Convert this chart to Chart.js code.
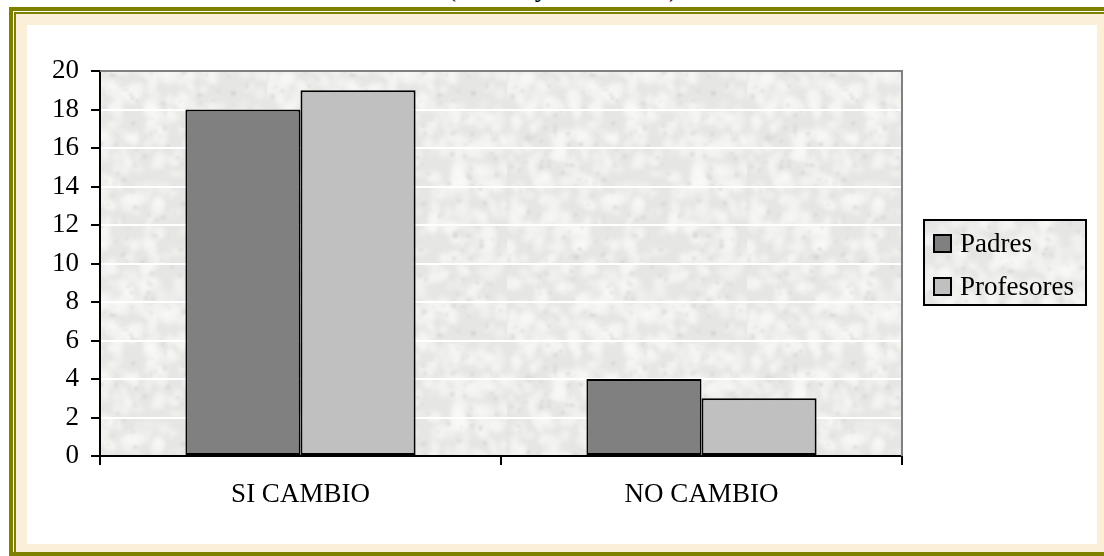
<!DOCTYPE html>
<html>
<head>
<meta charset="utf-8">
<script src="https://cdn.jsdelivr.net/npm/chart.js@4/dist/chart.umd.min.js"></script>
<style>
  html, body { margin: 0; padding: 0; background: #ffffff; }
  body { width: 1104px; height: 556px; position: relative; overflow: hidden; font-family: "Liberation Serif", "Times New Roman", serif; }
  .caption { position: absolute; left: 447px; top: -26px; font-size: 27px; line-height: 27px; color: #000; white-space: nowrap; }
  .frame-outer { position: absolute; left: 9px; top: 7px; width: 1200px; height: 600px; border-top: 4px solid #808000; border-left: 4px solid #808000; background: #ffffff; }
  .frame-inner { position: absolute; left: 14px; top: 12px; width: 1200px; height: 539px; border-top: 2px solid #808000; border-left: 2px solid #808000; border-bottom: 2px solid #ffffff; background: #fcefd8; }
  .frame-bottom { position: absolute; left: 9px; top: 552px; width: 1200px; height: 4px; background: #808000; }
  .panel { position: absolute; left: 27px; top: 25px; width: 1070px; height: 519px; background: #ffffff; }
  .legend { position: absolute; left: 923px; top: 219px; width: 160px; height: 83px; border: 2px solid #000; font-size: 27px; color: #000; }
  .legend .item { position: absolute; left: 8px; height: 20px; display: flex; align-items: center; white-space: nowrap; }
  .legend .swatch { width: 15px; height: 15px; border: 2px solid #000; margin-right: 8px; }
</style>
</head>
<body>
<div class="caption">(Padres y Profesores).</div>
<div class="frame-outer"></div>
<div class="frame-inner"></div>
<div class="frame-bottom"></div>
<div class="panel">
  <canvas id="chart" width="1070" height="519"></canvas>
</div>
<div class="legend" id="legend"></div>
<script>
// Categories and series
const categories = ['SI CAMBIO', 'NO CAMBIO'];
const seriesNames = ['Padres', 'Profesores'];
const padres = [18, 4];
const profesores = [19, 3];
const seriesColors = ['#808080', '#c0c0c0'];
const yTicks = [0, 2, 4, 6, 8, 10, 12, 14, 16, 18, 20];

// Soft marble-like texture used for the plot and legend backgrounds
function makeTexture() {
  const c = document.createElement('canvas');
  c.width = 240; c.height = 240;
  const g = c.getContext('2d');
  g.fillStyle = '#e6e6e4';
  g.fillRect(0, 0, 240, 240);
  let s = 24681;
  const rnd = () => { s = (s * 1103515245 + 12345) % 2147483648; return s / 2147483648; };
  g.filter = 'blur(2.5px)';
  for (let i = 0; i < 420; i++) {
    const x = rnd() * 240, y = rnd() * 240, rx = 3 + rnd() * 9, ry = 2 + rnd() * 5;
    g.fillStyle = 'rgba(250,250,248,' + (0.35 + rnd() * 0.4).toFixed(2) + ')';
    g.beginPath(); g.ellipse(x, y, rx, ry, rnd() * Math.PI, 0, Math.PI * 2); g.fill();
  }
  g.filter = 'blur(1px)';
  for (let i = 0; i < 260; i++) {
    const x = rnd() * 240, y = rnd() * 240, r = 0.8 + rnd() * 1.6;
    g.fillStyle = 'rgba(205,205,203,' + (0.3 + rnd() * 0.3).toFixed(2) + ')';
    g.beginPath(); g.arc(x, y, r, 0, Math.PI * 2); g.fill();
  }
  return c;
}
const texture = makeTexture();

const legendEl = document.getElementById('legend');
legendEl.style.backgroundImage = 'url(' + texture.toDataURL() + ')';
seriesNames.forEach((name, i) => {
  const item = document.createElement('div');
  item.className = 'item';
  item.style.top = (i === 0 ? 12 : 55) + 'px';
  const sw = document.createElement('div');
  sw.className = 'swatch';
  sw.style.background = seriesColors[i];
  const tx = document.createElement('span');
  tx.textContent = name;
  item.appendChild(sw); item.appendChild(tx);
  legendEl.appendChild(item);
});

const plotFrame = {
  id: 'plotFrame',
  beforeDraw(chart) {
    const { ctx, chartArea: a } = chart;
    ctx.save();
    ctx.fillStyle = ctx.createPattern(texture, 'repeat');
    ctx.fillRect(a.left, a.top, a.right - a.left, a.bottom - a.top);
    ctx.restore();
  },
  beforeDatasetsDraw(chart) {
    const { ctx, chartArea: a } = chart;
    ctx.save();
    ctx.strokeStyle = '#808080';
    ctx.lineWidth = 2;
    ctx.beginPath();
    ctx.moveTo(a.left, a.top);
    ctx.lineTo(a.right, a.top);
    ctx.lineTo(a.right, a.bottom);
    ctx.stroke();
    ctx.restore();
  }
};

const font = { family: '"Liberation Serif", "Times New Roman", serif', size: 27 };

new Chart(document.getElementById('chart'), {
  type: 'bar',
  data: {
    labels: categories,
    datasets: [
      { label: seriesNames[0], data: padres, backgroundColor: seriesColors[0] },
      { label: seriesNames[1], data: profesores, backgroundColor: seriesColors[1] }
    ].map(d => Object.assign(d, {
      borderColor: '#000', borderWidth: 2, borderSkipped: false,
      categoryPercentage: 0.574, barPercentage: 1.0
    }))
  },
  options: {
    responsive: false,
    animation: false,
    layout: { padding: { left: 0, top: 46, right: 195, bottom: 0 } },
    plugins: { legend: { display: false }, tooltip: { enabled: false } },
    scales: {
      x: {
        grid: { offset: true, drawOnChartArea: false, tickLength: 9, tickColor: '#000', lineWidth: 2 },
        border: { color: '#000', width: 2 },
        ticks: { color: '#000', font: font, padding: 14, maxRotation: 0 },
        afterFit(scale) { scale.height = 88; }
      },
      y: {
        min: 0, max: 20,
        afterBuildTicks(scale) { scale.ticks = yTicks.map(v => ({ value: v })); },
        grid: {
          color: ctx => (ctx.tick && ctx.tick.value === 20 ? '#808080' : (ctx.tick && ctx.tick.value === 0 ? 'rgba(0,0,0,0)' : '#ffffff')),
          lineWidth: 2, tickLength: 9, tickColor: '#000'
        },
        border: { color: '#000', width: 2 },
        ticks: { color: '#000', font: font, padding: 12 },
        afterFit(scale) { scale.width = 73; }
      }
    }
  },
  plugins: [plotFrame]
});
</script>
</body>
</html>
